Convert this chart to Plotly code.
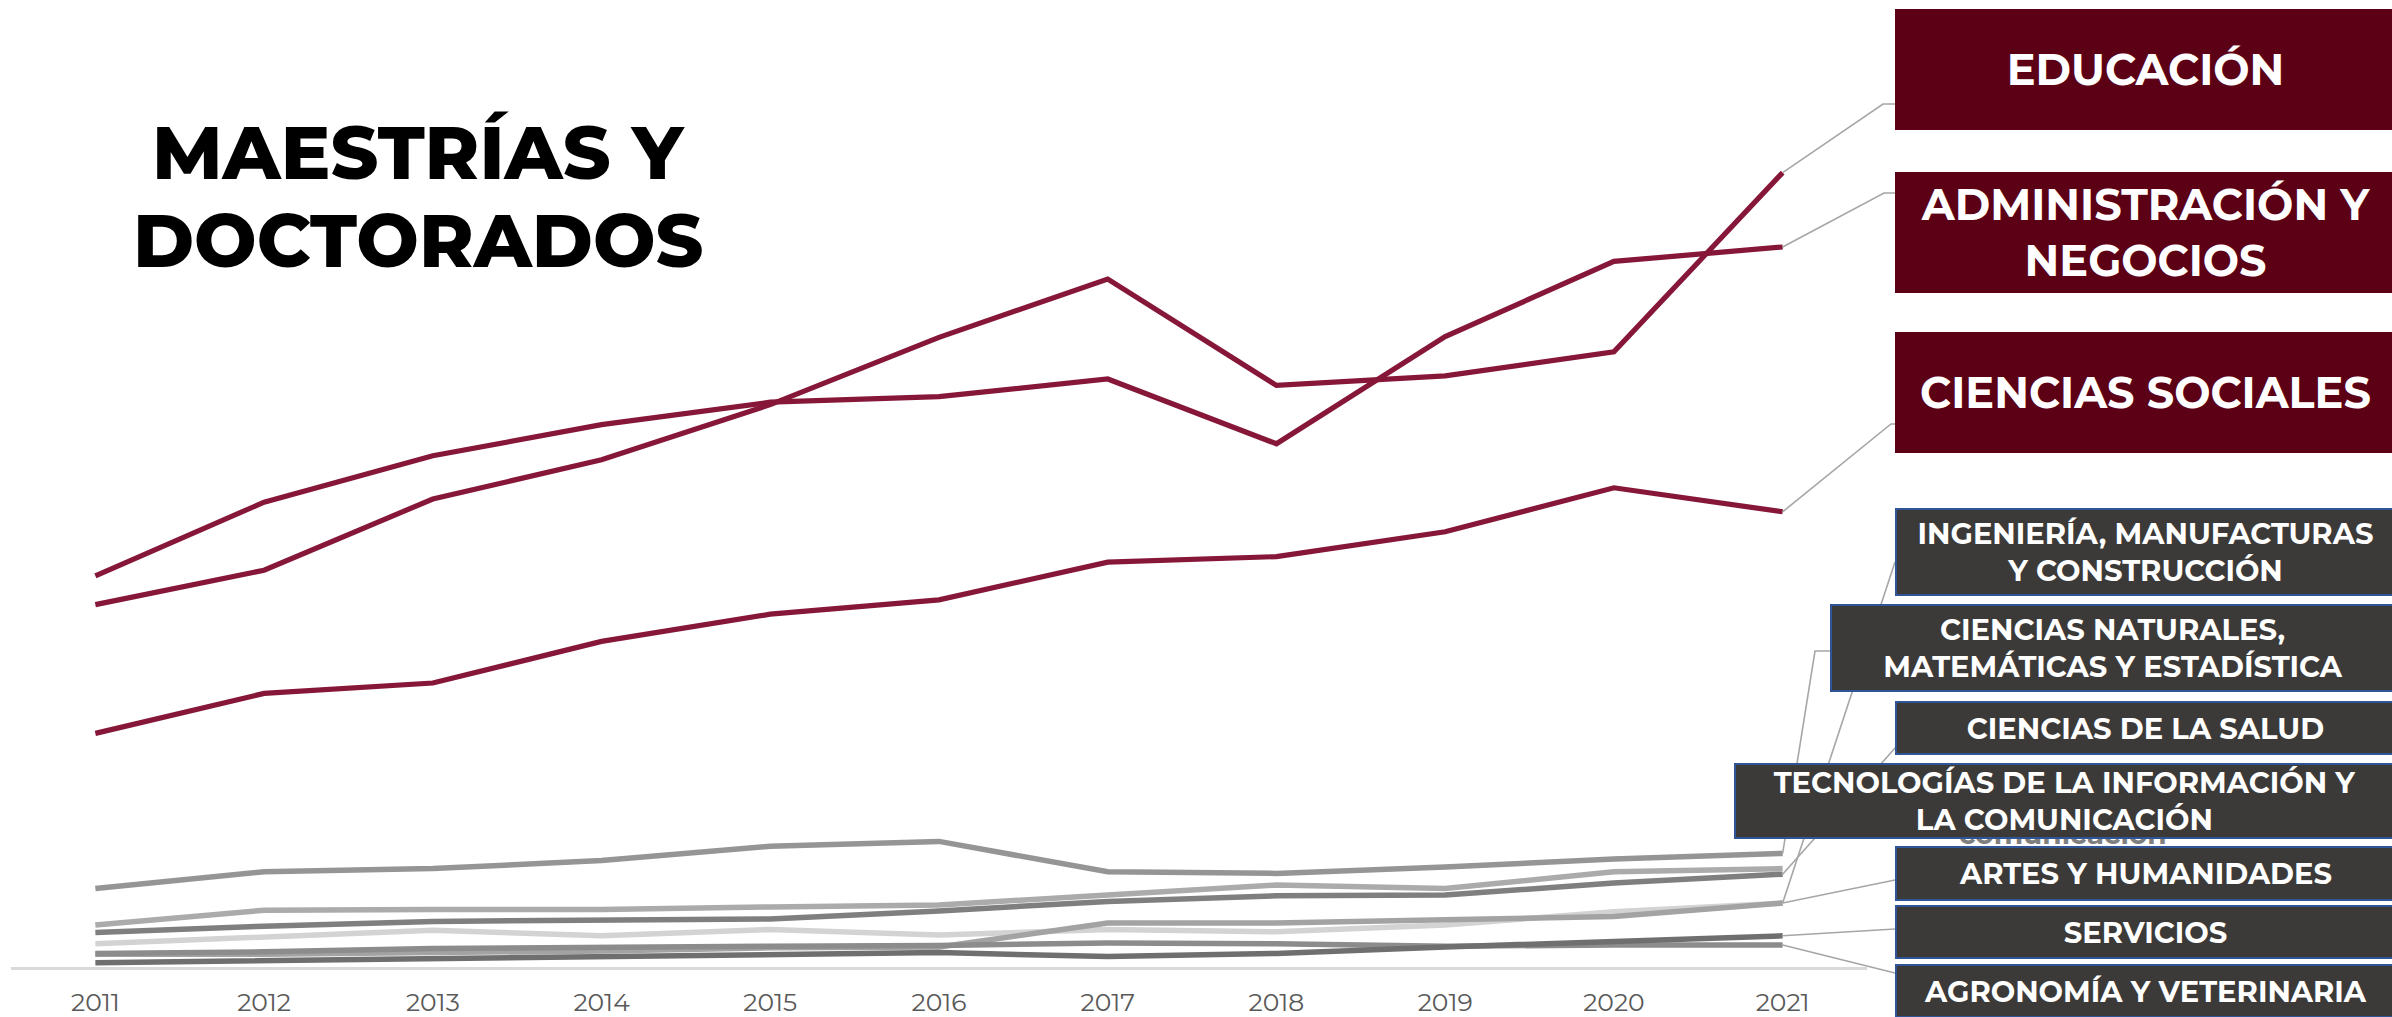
import plotly.graph_objects as go

# ---------------- data ----------------
years = [2011, 2012, 2013, 2014, 2015, 2016, 2017, 2018, 2019, 2020, 2021]

educacion = [45.3, 49.6, 58.5, 63.4, 70.3, 78.7, 86.0, 72.7, 73.9, 76.9, 99.3]
administracion = [48.9, 58.1, 63.9, 67.8, 70.6, 71.3, 73.5, 65.4, 78.8, 88.2, 90.0]
ciencias_sociales = [29.2, 34.2, 35.5, 40.7, 44.1, 45.9, 50.6, 51.3, 54.4, 59.9, 56.9]
ciencias_naturales = [9.8, 11.9, 12.3, 13.3, 15.1, 15.7, 11.9, 11.7, 12.5, 13.5, 14.2]
tic = [5.25, 7.1, 7.2, 7.2, 7.5, 7.75, 9.0, 10.25, 9.8, 11.9, 12.3]
salud = [4.3, 5.1, 5.7, 5.9, 6.0, 7.0, 8.2, 8.9, 9.0, 10.5, 11.6]
ingenieria = [1.6, 1.6, 1.8, 2.0, 2.4, 2.5, 5.5, 5.5, 5.9, 6.3, 8.0]
artes = [2.9, 3.8, 4.6, 3.9, 4.7, 4.0, 4.7, 4.4, 5.25, 6.9, 8.0]
agronomia = [1.7, 1.9, 2.3, 2.5, 2.6, 2.7, 3.0, 2.9, 2.6, 2.75, 2.75]
servicios = [0.54, 0.8, 1.1, 1.4, 1.5, 1.8, 1.3, 1.7, 2.5, 3.2, 3.9]

tick_labels = [str(y) for y in years]

label_educacion = "EDUCACIÓN"
label_administracion = "ADMINISTRACIÓN Y<br>NEGOCIOS"
label_sociales = "CIENCIAS SOCIALES"
label_ingenieria = "INGENIERÍA, MANUFACTURAS<br>Y CONSTRUCCIÓN"
label_naturales = "CIENCIAS NATURALES,<br>MATEMÁTICAS Y ESTADÍSTICA"
label_salud = "CIENCIAS DE LA SALUD"
label_tic = "TECNOLOGÍAS DE LA INFORMACIÓN Y<br>LA COMUNICACIÓN"
label_artes = "ARTES Y HUMANIDADES"
label_servicios = "SERVICIOS"
label_agronomia = "AGRONOMÍA Y VETERINARIA"
title_lines = ["MAESTRÍAS Y", "DOCTORADOS"]

# ---------------- layout geometry ----------------
W, H = 2392, 1017
ML, MR, MT, MB = 11, 525, 0, 50
PW, PH = W - ML - MR, H - MT - MB
YMAX = 120.875
XR = [years[0] - 0.5, years[-1] + 0.5]

def pxx(px):
    return (px - ML) / PW

def pxy(py):
    return (MT + PH - py) / PH

def dx(x):
    return (x - XR[0]) / (XR[1] - XR[0])

def dy(v):
    return v / YMAX

MAROON_LINE = "#861739"
MAROON_BOX = "#5c0016"
DARK_BOX = "#3b3a39"
BOX_BORDER = "#2f5597"
LEADER = "#a6a6a6"
FONT = "Montserrat, Open Sans, Lato, sans-serif"

fig = go.Figure()

gray_series = [
    (artes, "#d3d3d3"),
    (ingenieria, "#a3a3a3"),
    (agronomia, "#8c8c8c"),
    (tic, "#ababab"),
    (salud, "#7f7f7f"),
    (ciencias_naturales, "#959595"),
    (servicios, "#6f6f6f"),
]
for vals, col in gray_series:
    fig.add_trace(go.Scatter(x=years, y=vals, mode="lines",
                             line=dict(color=col, width=5.5), hoverinfo="skip"))

for vals in [ciencias_sociales, administracion, educacion]:
    fig.add_trace(go.Scatter(x=years, y=vals, mode="lines",
                             line=dict(color=MAROON_LINE, width=5.2), hoverinfo="skip"))

BIG, SMALL = 43, 29
# label boxes: (text, series, box x0,x1,y0,y1 px, style, leader elbows px, fontsize)
labels = [
    (label_educacion, educacion, (1895, 2396, 9, 130), "m", [(1883, 104), (1895, 104)], BIG),
    (label_administracion, administracion, (1895, 2396, 172, 293), "m", [(1884, 193), (1895, 193)], BIG),
    (label_sociales, ciencias_sociales, (1895, 2396, 332, 453), "m", [(1891, 424), (1895, 424)], BIG),
    (label_ingenieria, ingenieria, (1895, 2396, 508, 596), "d", [(1895, 562)], SMALL),
    (label_naturales, ciencias_naturales, (1830, 2396, 604, 692), "d", [(1815, 651), (1830, 651)], SMALL),
    (label_salud, salud, (1895, 2396, 701, 755), "d", [(1896, 747)], SMALL),
    (label_tic, tic, (1734, 2396, 763, 839), "d", [], SMALL),
    (label_artes, artes, (1895, 2396, 846, 901), "d", [(1895, 880)], SMALL),
    (label_servicios, servicios, (1895, 2396, 905, 959), "d", [(1895, 929)], SMALL),
    (label_agronomia, agronomia, (1895, 2396, 964, 1018), "d", [(1895, 973)], SMALL),
]

shapes = []
annotations = []
for text, vals, (x0, x1, y0, y1), style, elbows, fs in labels:
    if elbows:
        pts = [(dx(years[-1]), dy(vals[-1]))] + [(pxx(a), pxy(b)) for a, b in elbows]
        path = "M " + " L ".join(f"{a:.5f},{b:.5f}" for a, b in pts)
        shapes.append(dict(type="path", xref="paper", yref="paper", path=path,
                           line=dict(color=LEADER, width=1.6), layer="above"))

# ghost text peeking below the TIC box
annotations.append(dict(text="comunicación", xref="paper", yref="paper",
                        x=pxx(2063), y=pxy(834), xanchor="center", yanchor="middle",
                        showarrow=False, font=dict(family=FONT, size=28, color="#7f7f7f", weight="bold")))

for text, vals, (x0, x1, y0, y1), style, elbows, fs in labels:
    if style == "m":
        bg, bc, bw = MAROON_BOX, MAROON_BOX, 0
    else:
        bg, bc, bw = DARK_BOX, BOX_BORDER, 2
    annotations.append(dict(
        text=text, xref="paper", yref="paper",
        x=pxx((x0 + x1) / 2), y=pxy((y0 + y1) / 2),
        xanchor="center", yanchor="middle", showarrow=False,
        width=x1 - x0 - 2 * bw, height=y1 - y0 - 2 * bw, align="center", valign="middle",
        bgcolor=bg, bordercolor=bc, borderwidth=bw, borderpad=0,
        font=dict(family=FONT, size=fs, color="white", weight="bold"),
    ))

# title
for line, cy in zip(title_lines, [152, 240]):
    annotations.append(dict(text=line, xref="paper", yref="paper",
                            x=pxx(418), y=pxy(cy), xanchor="center", yanchor="middle",
                            showarrow=False,
                            font=dict(family=FONT, size=74, color="black", weight=800)))

fig.update_layout(
    width=W, height=H,
    margin=dict(l=ML, r=MR, t=MT, b=MB),
    paper_bgcolor="white", plot_bgcolor="white",
    showlegend=False,
    shapes=shapes, annotations=annotations,
    xaxis=dict(range=XR, tickvals=years, ticktext=tick_labels, showgrid=False,
               zeroline=False, showline=True, linecolor="#d9d9d9", linewidth=2.5,
               ticks="", ticklabelstandoff=11,
               tickfont=dict(family=FONT, size=25, color="#595959")),
    yaxis=dict(range=[0, YMAX], visible=False, showgrid=False, zeroline=False),
)

fig.write_html("out.html", config={"displayModeBar": False},
               post_script="document.body.style.margin='0px';document.body.style.overflow='hidden';")
